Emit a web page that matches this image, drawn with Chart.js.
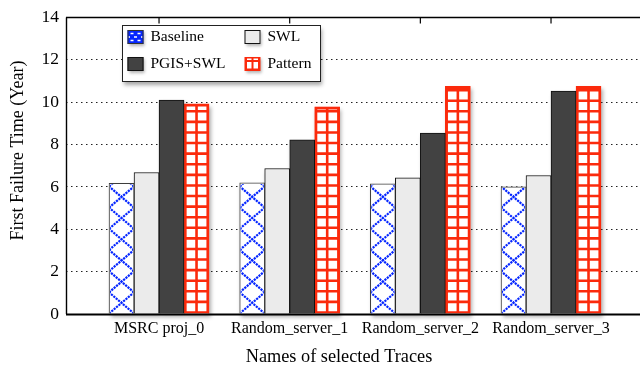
<!DOCTYPE html>
<html>
<head>
<meta charset="utf-8">
<script src="https://cdn.jsdelivr.net/npm/chart.js@4/dist/chart.umd.min.js"></script>
<style>
  html, body { margin: 0; padding: 0; background: #fff; }
  #wrap { width: 640px; height: 366px; }
</style>
</head>
<body>
<div id="wrap"><canvas id="c" width="640" height="366"></canvas></div>
<script>
// Trace names and first-failure times (years) per scheme
const traces = ['MSRC proj_0', 'Random_server_1', 'Random_server_2', 'Random_server_3'];
const seriesNames = ['Baseline', 'SWL', 'PGIS+SWL', 'Pattern'];
const baseline = [6.17, 6.19, 6.15, 6.01];
const swl      = [6.68, 6.87, 6.43, 6.54];
const pgisSwl  = [10.10, 8.22, 8.54, 10.52];
const pattern  = [9.92, 9.78, 10.75, 10.75];
const yTicks   = [0, 2, 4, 6, 8, 10, 12, 14];
const xTitle = 'Names of selected Traces';
const yTitle = 'First Failure Time (Year)';

const SERIF = '"Liberation Serif", "Times New Roman", serif';
const BLUE = '#0526ff';
const RED = '#fb2a0c';

const series = [baseline, swl, pgisSwl, pattern];
const styles = [
  { bg: '#ffffff', border: '#3c3c3c' },
  { bg: '#ebebeb', border: '#111111' },
  { bg: '#424242', border: '#111111' },
  { bg: '#ffffff', border: RED }
];

const datasets = series.map((vals, s) => ({
  label: seriesNames[s],
  data: vals.map((v, i) => ({ x: i, y: v })),
  backgroundColor: styles[s].bg,
  borderColor: styles[s].border,
  borderWidth: 1,
  borderSkipped: 'start',
  barThickness: 25,
  clip: false
}));

// soft drop shadow behind every bar
const shadowPlugin = {
  id: 'barShadow',
  beforeDatasetsDraw(chart) {
    const ctx = chart.ctx;
    ctx.save();
    ctx.shadowColor = 'rgba(0,0,0,0.32)';
    ctx.shadowBlur = 4;
    ctx.shadowOffsetX = 1.5;
    ctx.shadowOffsetY = 3;
    ctx.fillStyle = '#ffffff';
    chart.data.datasets.forEach((ds, i) => {
      chart.getDatasetMeta(i).data.forEach(bar => {
        const p = bar.getProps(['x', 'y', 'base', 'width'], true);
        ctx.fillRect(p.x - p.width / 2, p.y, p.width, p.base - p.y);
      });
    });
    ctx.restore();
  }
};

// fill patterns: dotted diamond lattice and red grid
const hatchPlugin = {
  id: 'hatch',
  afterDatasetDraw(chart, args) {
    const i = args.index;
    if (i !== 0 && i !== 3) return;
    const ctx = chart.ctx;
    const ys = chart.scales.y;
    const unit = ys.getPixelForValue(0) - ys.getPixelForValue(1);
    args.meta.data.forEach(bar => {
      const p = bar.getProps(['x', 'y', 'base', 'width'], true);
      const L = p.x - p.width / 2, R = p.x + p.width / 2;
      const top = p.y, base = p.base;
      ctx.save();
      if (i === 0) {
        ctx.beginPath();
        ctx.rect(L + 1, top + 1, p.width - 2, base - top - 1);
        ctx.clip();
        ctx.strokeStyle = BLUE;
        ctx.lineWidth = 2.2;
        ctx.setLineDash([2.2, 0.9]);
        for (let y0 = base; y0 > top - unit; y0 -= unit) {
          ctx.beginPath();
          ctx.moveTo(L, y0); ctx.lineTo(R, y0 - unit);
          ctx.moveTo(R, y0); ctx.lineTo(L, y0 - unit);
          ctx.stroke();
        }
      } else {
        ctx.beginPath();
        ctx.rect(L, top, p.width, base - top);
        ctx.clip();
        ctx.strokeStyle = RED;
        ctx.lineWidth = 2.6;
        ctx.beginPath();
        [L + 1.3, p.x, R - 1.3].forEach(x => { ctx.moveTo(x, top); ctx.lineTo(x, base); });
        for (let y0 = base - 1; y0 > top - 2; y0 -= unit / 2) {
          ctx.moveTo(L, y0); ctx.lineTo(R, y0);
        }
        ctx.moveTo(L, top + 1.3); ctx.lineTo(R, top + 1.3);
        ctx.stroke();
      }
      ctx.restore();
    });
  }
};

// axis frame, top tick marks, and both axis titles
const framePlugin = {
  id: 'frame',
  afterDatasetsDraw(chart) {
    const { ctx, chartArea: a } = chart;
    const xs = chart.scales.x;
    ctx.save();
    ctx.strokeStyle = '#000';
    ctx.lineWidth = 1.4;
    ctx.beginPath();
    ctx.moveTo(a.left, a.top); ctx.lineTo(a.right, a.top);
    ctx.moveTo(a.left + 0.5, a.top); ctx.lineTo(a.left + 0.5, a.bottom);
    ctx.stroke();
    ctx.lineWidth = 1.2;
    ctx.beginPath();
    xs.ticks.forEach(t => {
      const px = xs.getPixelForValue(t.value);
      ctx.moveTo(px, a.top); ctx.lineTo(px, a.top + 6);
    });
    ctx.stroke();
    ctx.lineWidth = 2;
    ctx.beginPath();
    ctx.moveTo(a.left, a.bottom + 0.5); ctx.lineTo(a.right, a.bottom + 0.5);
    ctx.stroke();

    ctx.fillStyle = '#000';
    ctx.textAlign = 'center';
    ctx.font = '18.3px ' + SERIF;
    ctx.textBaseline = 'alphabetic';
    ctx.fillText(xTitle, 339, 362);

    ctx.translate(18, 150.5);
    ctx.rotate(-Math.PI / 2);
    ctx.font = '18px ' + SERIF;
    ctx.textBaseline = 'middle';
    ctx.fillText(yTitle, 0, 0);
    ctx.restore();
  }
};

// boxed two-column legend inside the plot
const legendPlugin = {
  id: 'boxLegend',
  afterDraw(chart) {
    const ctx = chart.ctx;
    const bx = 122.5, by = 25.5, bw = 198, bh = 56;
    ctx.save();
    ctx.shadowColor = 'rgba(0,0,0,0.35)';
    ctx.shadowBlur = 4; ctx.shadowOffsetX = 1.5; ctx.shadowOffsetY = 3;
    ctx.fillStyle = '#fff';
    ctx.fillRect(bx, by, bw, bh);
    ctx.shadowColor = 'transparent';
    ctx.strokeStyle = '#222';
    ctx.lineWidth = 1;
    ctx.strokeRect(bx, by, bw, bh);

    const cols = [127.5, 244.5], rows = [30, 57];
    const sw = 16, sh = 14;
    chart.data.datasets.forEach((ds, i) => {
      const sx = cols[i % 2], sy = rows[Math.floor(i / 2)];
      ctx.save();
      ctx.shadowColor = 'rgba(0,0,0,0.3)';
      ctx.shadowBlur = 3; ctx.shadowOffsetX = 1; ctx.shadowOffsetY = 2;
      const fill = i === 0 ? BLUE : i === 3 ? RED : ds.backgroundColor;
      ctx.fillStyle = fill;
      ctx.fillRect(sx, sy, sw, sh);
      ctx.restore();
      if (i === 0) {
        ctx.strokeStyle = '#fff';
        ctx.lineWidth = 1.3;
        ctx.beginPath();
        ctx.moveTo(sx + 3, sy + 3.5); ctx.lineTo(sx + 6, sy + 3.5);
        ctx.moveTo(sx + 10, sy + 3.5); ctx.lineTo(sx + 13, sy + 3.5);
        ctx.moveTo(sx + 6.5, sy + 7); ctx.lineTo(sx + 9.5, sy + 7);
        ctx.moveTo(sx + 1, sy + 7); ctx.lineTo(sx + 2.5, sy + 7);
        ctx.moveTo(sx + 13.5, sy + 7); ctx.lineTo(sx + 15, sy + 7);
        ctx.moveTo(sx + 3, sy + 10.5); ctx.lineTo(sx + 6, sy + 10.5);
        ctx.moveTo(sx + 10, sy + 10.5); ctx.lineTo(sx + 13, sy + 10.5);
        ctx.stroke();
        ctx.strokeStyle = '#333';
        ctx.lineWidth = 1;
        ctx.strokeRect(sx + 0.5, sy + 0.5, sw - 1, sh - 1);
      } else if (i === 3) {
        ctx.fillStyle = '#fff';
        ctx.fillRect(sx + 2.5, sy + 5, 4.5, 6.5);
        ctx.fillRect(sx + 9, sy + 5, 4.5, 6.5);
        ctx.fillRect(sx + 2.5, sy + 1.5, 4.5, 1.5);
        ctx.fillRect(sx + 9, sy + 1.5, 4.5, 1.5);
      } else {
        ctx.strokeStyle = '#111';
        ctx.lineWidth = 1;
        ctx.strokeRect(sx + 0.5, sy + 0.5, sw - 1, sh - 1);
      }
      ctx.fillStyle = '#000';
      ctx.font = '15.5px ' + SERIF;
      ctx.textAlign = 'left';
      ctx.textBaseline = 'middle';
      ctx.fillText(ds.label, sx + 23, sy + 7);
    });
    ctx.restore();
  }
};

new Chart(document.getElementById('c'), {
  type: 'bar',
  data: { datasets },
  plugins: [shadowPlugin, hatchPlugin, framePlugin, legendPlugin],
  options: {
    responsive: false,
    animation: false,
    devicePixelRatio: 1,
    layout: { padding: { top: 15, right: 0, left: 0, bottom: 0 } },
    plugins: { legend: { display: false }, tooltip: { enabled: false } },
    scales: {
      x: {
        type: 'linear',
        offset: false,
        bounds: 'data',
        min: -0.712,
        max: 3.681,
        afterBuildTicks: s => { s.ticks = traces.map((_, i) => ({ value: i })); },
        afterFit: s => { s.height = 52; },
        grid: { display: false, drawTicks: false, offset: false },
        border: { display: false },
        ticks: {
          autoSkip: false,
          maxRotation: 0,
          padding: 5,
          color: '#000',
          font: { family: SERIF, size: 16 },
          callback: (v, idx) => traces[idx]
        }
      },
      y: {
        min: 0,
        max: 14,
        afterBuildTicks: s => { s.ticks = yTicks.map(v => ({ value: v })); },
        afterFit: s => { s.width = 66; },
        grid: {
          drawTicks: false,
          lineWidth: 1,
          color: c => (c.tick && (c.tick.value === 0 || c.tick.value === 14)) ? 'rgba(0,0,0,0)' : '#222'
        },
        border: { display: false, dash: [1.5, 3.5] },
        ticks: {
          padding: 7,
          color: '#000',
          font: { family: SERIF, size: 17.5 }
        }
      }
    }
  }
});
</script>
</body>
</html>
